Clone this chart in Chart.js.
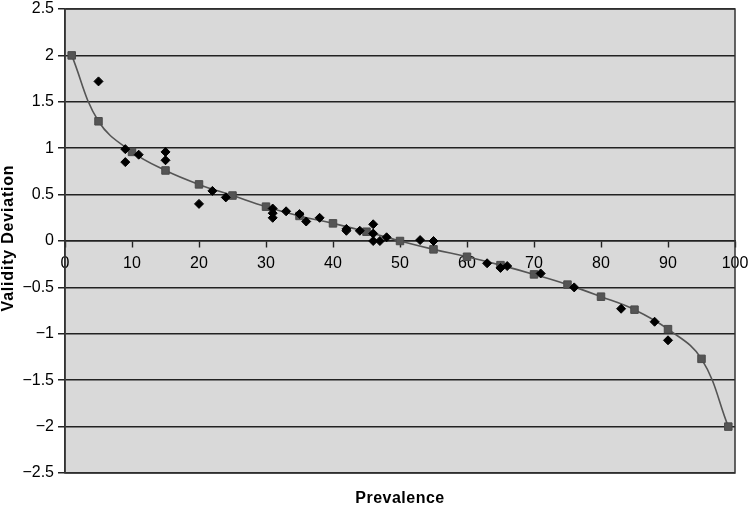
<!DOCTYPE html>
<html>
<head>
<meta charset="utf-8">
<script src="https://cdn.jsdelivr.net/npm/chart.js@4/dist/chart.umd.min.js"></script>
<style>
  body { margin: 0; background: #fff; }
  #wrap { width: 750px; height: 508px; }
</style>
</head>
<body>
<div id="wrap"><canvas id="myChart" width="750" height="508"></canvas></div>
<script>
// fitted curve (squares)
const curveX = [1, 5, 10, 15, 20, 25, 30, 35, 40, 45, 50, 55, 60, 65, 70, 75, 80, 85, 90, 95, 99]
const curveY = [2, 1.29, 0.96, 0.76, 0.61, 0.49, 0.37, 0.27, 0.19, 0.10, 0, -0.09, -0.17, -0.26, -0.36, -0.47, -0.60, -0.74, -0.95, -1.27, -2]

// observed points (diamonds)
const obsX = [5, 9, 9, 11, 15, 15, 20, 22, 24, 31, 31, 31, 33, 35, 36, 38, 42, 42, 44, 46, 46, 46, 47, 48, 53, 55, 63, 65, 66, 71, 76, 83, 88, 90]
const obsY = [1.72, 0.99, 0.85, 0.93, 0.96, 0.87, 0.40, 0.54, 0.47, 0.35, 0.30, 0.25, 0.32, 0.29, 0.21, 0.25, 0.13, 0.11, 0.11, 0.18, 0.08, 0.0, 0.0, 0.04, 0.01, 0.0, -0.24, -0.29, -0.27, -0.35, -0.50, -0.73, -0.87, -1.07]

const xTitle = "Prevalence"
const yTitle = "Validity Deviation"

const toPts = (xs, ys) => xs.map((x, i) => ({ x: x, y: ys[i] }))

const tickFont = { family: "'Liberation Sans', Arial, sans-serif", size: 16 }

// gray plot area + border + axis titles
const frame = {
  id: "frame",
  beforeDraw(chart) {
    const { ctx, chartArea: a } = chart
    ctx.save()
    ctx.fillStyle = "#d9d9d9"
    ctx.fillRect(a.left, a.top, a.right - a.left, a.bottom - a.top)
    ctx.restore()
  },
  beforeDatasetsDraw(chart) {
    const { ctx, chartArea: a } = chart
    ctx.save()
    ctx.strokeStyle = "#333"
    ctx.lineWidth = 1.5
    ctx.strokeRect(a.left, a.top, a.right - a.left, a.bottom - a.top)
    ctx.restore()
  },
  afterDraw(chart) {
    const { ctx, chartArea: a } = chart
    ctx.save()
    ctx.fillStyle = "#000"
    ctx.font = "bold 16px 'Liberation Sans', Arial, sans-serif"
    ctx.textAlign = "center"
    ctx.textBaseline = "middle"
    ctx.letterSpacing = "0.5px"
    ctx.fillText(xTitle, (a.left + a.right) / 2, 499)
    ctx.translate(9, 238)
    ctx.rotate(-Math.PI / 2)
    ctx.letterSpacing = "0.8px"
    ctx.fillText(yTitle, 0, 0)
    ctx.restore()
  }
}

const ctx = document.getElementById("myChart")

new Chart(ctx, {
  type: "scatter",
  data: {
    datasets: [
      {
        label: "observed",
        data: toPts(obsX, obsY),
        pointStyle: "rectRot",
        pointRadius: 4.5,
        backgroundColor: "#000",
        borderColor: "#000",
        borderWidth: 1
      },
      {
        label: "fitted",
        data: toPts(curveX, curveY),
        showLine: true,
        tension: 0.4,
        borderColor: "#555",
        borderWidth: 1.6,
        pointStyle: "rect",
        pointRadius: 5.3,
        pointBackgroundColor: "#555",
        pointBorderColor: "#4a4a4a",
        pointBorderWidth: 1
      }
    ]
  },
  options: {
    responsive: false,
    animation: false,
    events: [],
    layout: { padding: { left: 0, top: 9, right: 15, bottom: 35 } },
    plugins: { legend: { display: false }, tooltip: { enabled: false } },
    scales: {
      x: {
        type: "linear",
        position: { y: 0 },
        min: 0,
        max: 100,
        afterFit(scale) {
          scale.paddingLeft = 0
          scale.paddingRight = 0
        },
        ticks: { stepSize: 10, color: "#000", font: tickFont, padding: 7, maxRotation: 0 },
        grid: { drawOnChartArea: false, drawTicks: true, tickLength: 6, tickColor: "#222", tickWidth: 1.4 },
        border: { display: true, color: "#222", width: 1.5 }
      },
      y: {
        type: "linear",
        position: "left",
        min: -2.5,
        max: 2.5,
        afterFit(scale) {
          scale.width = 65
          scale.paddingTop = 0
          scale.paddingBottom = 0
        },
        ticks: {
          stepSize: 0.5,
          color: "#000",
          font: tickFont,
          padding: 4,
          callback: (v) => String(v).replace("-", "\u2212")
        },
        grid: { color: "#222", lineWidth: 1.5, tickLength: 7, tickColor: "#222" },
        border: { display: true, color: "#333", width: 1.5 }
      }
    }
  },
  plugins: [frame]
})
</script>
</body>
</html>
